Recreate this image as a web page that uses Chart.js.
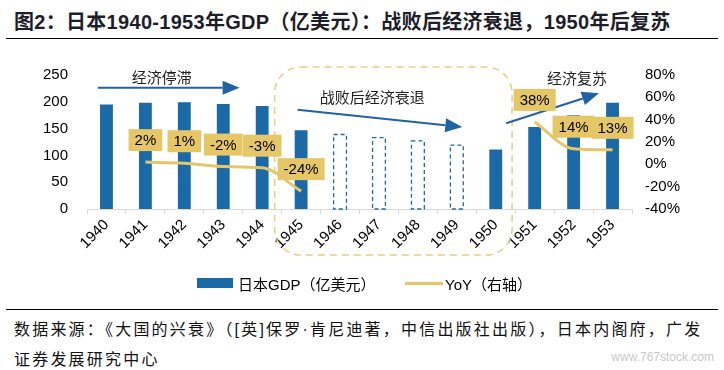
<!DOCTYPE html>
<html>
<head>
<meta charset="utf-8">
<script src="https://cdn.jsdelivr.net/npm/chart.js@4"></script>
<style>
    body { margin: 0; width: 724px; height: 370px; background: #fff; position: relative; overflow: hidden;
           font-family: "Liberation Sans", "Noto Sans CJK SC", sans-serif; color: #000; }
    .title { position: absolute; left: 14px; top: 6px; font-size: 20px; letter-spacing: 0.3px; font-weight: bold; color: #1e1e2a; white-space: nowrap; }
    .rule { position: absolute; left: 6px; width: 712px; height: 1px; background: #000; }
    #chartWrap { position: absolute; left: 0; top: 40px; width: 724px; height: 235px; }
    .legend { position: absolute; top: 273px; font-size: 15px; white-space: nowrap; }
    .swatch { position: absolute; }
    .source { position: absolute; left: 14px; top: 315px; font-size: 16px; letter-spacing: 2.2px; line-height: 30px; color: #111; white-space: nowrap; }
    .mark { position: absolute; right: 10px; top: 350px; font-size: 12px; color: #c8c8c8; }
</style>
</head>
<body>
<div class="title">图2：日本1940-1953年GDP（亿美元）：战败后经济衰退，1950年后复苏</div>
<div class="rule" style="top:38px"></div>
<div id="chartWrap"><canvas id="gdpChart" width="724" height="235"></canvas></div>
<div class="swatch" style="left:197px; top:278px; width:36px; height:10px; background:#1b69a6"></div>
<div class="legend" style="left:238px">日本GDP（亿美元）</div>
<div class="swatch" style="left:405px; top:282px; width:38px; height:3px; background:#e5c767"></div>
<div class="legend" style="left:445px">YoY（右轴）</div>
<div class="rule" style="top:309px"></div>
<div class="source">数据来源：《大国的兴衰》（[英]保罗·肯尼迪著，中信出版社出版），日本内阁府，广发<br>证券发展研究中心</div>
<div class="mark">www.767stock.com</div>
<script>
// years on the x axis
const years = ['1940', '1941', '1942', '1943', '1944', '1945', '1946', '1947', '1948', '1949', '1950', '1951', '1952', '1953'];
// Japan GDP, 100 million USD
const gdp = [195, 198, 199, 196, 192, 147, 139, 133, 127, 119, 111, 153, 175, 198];
// YoY growth, %, right axis
const yoy = [null, 2, 1, -2, -3, -24, null, null, null, null, null, 38, 14, 13];
// years drawn as dashed (no solid bar)
const dashedYears = ['1946', '1947', '1948', '1949'];
// left and right axis ticks
const gdpTicks = [0, 50, 100, 150, 200, 250];
const yoyTicks = [-40, -20, 0, 20, 40, 60, 80];

const BLUE = '#1b69a6';
const GOLD = '#e5c767';

// annotation arrows / texts, positioned as [category index, left-axis value]
const arrows = [
    { from: [-0.22, 226], to: [3.42, 226] },
    { from: [4.91, 185], to: [9.14, 153] },
    { from: [10.27, 160], to: [12.65, 216] }
];
const notes = [
    { text: '经济停滞', at: [1.42, 245] },
    { text: '战败后经济衰退', at: [6.83, 208] },
    { text: '经济复苏', at: [12.09, 243] }
];

const decorPlugin = {
    id: 'decor',
    beforeDatasetsDraw(chart) {
        const ctx = chart.ctx;
        const x = chart.scales.x, y = chart.scales.y;
        // dashed rounded box around the post-war years
        const left = x.getPixelForValue(4.32), right = x.getPixelForValue(10.42);
        const top = y.getPixelForValue(265), bottom = y.getPixelForValue(-86);
        ctx.save();
        ctx.strokeStyle = '#e8cd84';
        ctx.lineWidth = 1.5;
        ctx.setLineDash([7, 5]);
        ctx.beginPath();
        ctx.roundRect(left, top, right - left, bottom - top, 26);
        ctx.stroke();
        ctx.restore();
    },
    afterDatasetsDraw(chart) {
        const ctx = chart.ctx;
        const x = chart.scales.x, y = chart.scales.y;

        // dashed outline for the missing years
        const barMeta = chart.getDatasetMeta(0);
        ctx.save();
        ctx.strokeStyle = BLUE;
        ctx.lineWidth = 1.3;
        ctx.setLineDash([4, 3]);
        barMeta.data.forEach((el, i) => {
            if (!dashedYears.includes(years[i])) return;
            const p = el.getProps(['x', 'y', 'width', 'base'], true);
            ctx.strokeRect(p.x - p.width / 2, p.y, p.width, p.base - p.y);
        });
        ctx.restore();

        // arrows
        ctx.save();
        ctx.strokeStyle = '#2063a0';
        ctx.fillStyle = '#2063a0';
        ctx.lineWidth = 2;
        arrows.forEach(a => {
            const x1 = x.getPixelForValue(a.from[0]), y1 = y.getPixelForValue(a.from[1]);
            const x2 = x.getPixelForValue(a.to[0]), y2 = y.getPixelForValue(a.to[1]);
            const ang = Math.atan2(y2 - y1, x2 - x1);
            const head = 17, half = 7;
            const bx = x2 - head * Math.cos(ang), by = y2 - head * Math.sin(ang);
            ctx.beginPath();
            ctx.moveTo(x1, y1);
            ctx.lineTo(bx, by);
            ctx.stroke();
            ctx.beginPath();
            ctx.moveTo(x2, y2);
            ctx.lineTo(bx + half * Math.sin(ang), by - half * Math.cos(ang));
            ctx.lineTo(bx - half * Math.sin(ang), by + half * Math.cos(ang));
            ctx.closePath();
            ctx.fill();
        });
        ctx.restore();

        // annotation texts
        ctx.save();
        ctx.fillStyle = '#222';
        ctx.font = '15px "Noto Sans CJK SC"';
        ctx.textAlign = 'center';
        ctx.textBaseline = 'middle';
        notes.forEach(n => {
            ctx.fillText(n.text, x.getPixelForValue(n.at[0]), y.getPixelForValue(n.at[1]));
        });
        ctx.restore();

        // YoY value labels
        const lineMeta = chart.getDatasetMeta(1);
        ctx.save();
        ctx.font = '15px "Liberation Sans"';
        ctx.textAlign = 'center';
        ctx.textBaseline = 'middle';
        lineMeta.data.forEach((pt, i) => {
            if (yoy[i] === null) return;
            const label = yoy[i] + '%';
            const w = ctx.measureText(label).width + 12, h = 22;
            const cx = pt.x, cy = pt.y - 22;
            ctx.fillStyle = GOLD;
            ctx.fillRect(cx - w / 2, cy - h / 2, w, h);
            ctx.fillStyle = '#000';
            ctx.fillText(label, cx, cy + 1);
        });
        ctx.restore();
    }
};

const ctx = document.getElementById('gdpChart').getContext('2d');
new Chart(ctx, {
    data: {
        labels: years,
        datasets: [{
            type: 'bar',
            label: '日本GDP（亿美元）',
            data: gdp,
            yAxisID: 'y',
            backgroundColor: years.map(yr => dashedYears.includes(yr) ? 'rgba(0,0,0,0)' : BLUE),
            categoryPercentage: 1,
            barPercentage: 0.33,
            order: 2
        }, {
            type: 'line',
            label: 'YoY（右轴）',
            data: yoy,
            yAxisID: 'y1',
            borderColor: GOLD,
            borderWidth: 3,
            pointRadius: 0,
            cubicInterpolationMode: 'monotone',
            spanGaps: false,
            order: 1
        }]
    },
    plugins: [decorPlugin],
    options: {
        responsive: false,
        animation: false,
        devicePixelRatio: 1,
        layout: { padding: { top: 35, left: 0, right: 0, bottom: 0 } },
        plugins: {
            legend: { display: false },
            title: { display: false },
            tooltip: { enabled: false }
        },
        scales: {
            x: {
                offset: true,
                grid: { display: true, offset: true, drawOnChartArea: false, tickLength: 5, color: '#d9d9d9' },
                border: { display: true, color: '#d9d9d9' },
                ticks: {
                    autoSkip: false, maxRotation: 45, minRotation: 45, padding: 2,
                    color: '#000', font: { family: 'Liberation Sans', size: 15 }
                },
                afterFit(scale) { scale.height = 66; }
            },
            y: {
                position: 'left',
                min: 0, max: 250,
                afterBuildTicks(scale) { scale.ticks = gdpTicks.map(v => ({ value: v })); },
                grid: { display: false, drawTicks: false },
                border: { display: false },
                ticks: { padding: 19, color: '#000', font: { family: 'Liberation Sans', size: 15 } },
                afterFit(scale) { scale.width = 87; }
            },
            y1: {
                position: 'right',
                min: -40, max: 80,
                afterBuildTicks(scale) { scale.ticks = yoyTicks.map(v => ({ value: v })); },
                grid: { display: false, drawTicks: false },
                border: { display: false },
                ticks: {
                    padding: 13, color: '#000', font: { family: 'Liberation Sans', size: 15 },
                    callback: v => v + '%'
                },
                afterFit(scale) { scale.width = 92; }
            }
        }
    }
});
</script>
</body>
</html>
